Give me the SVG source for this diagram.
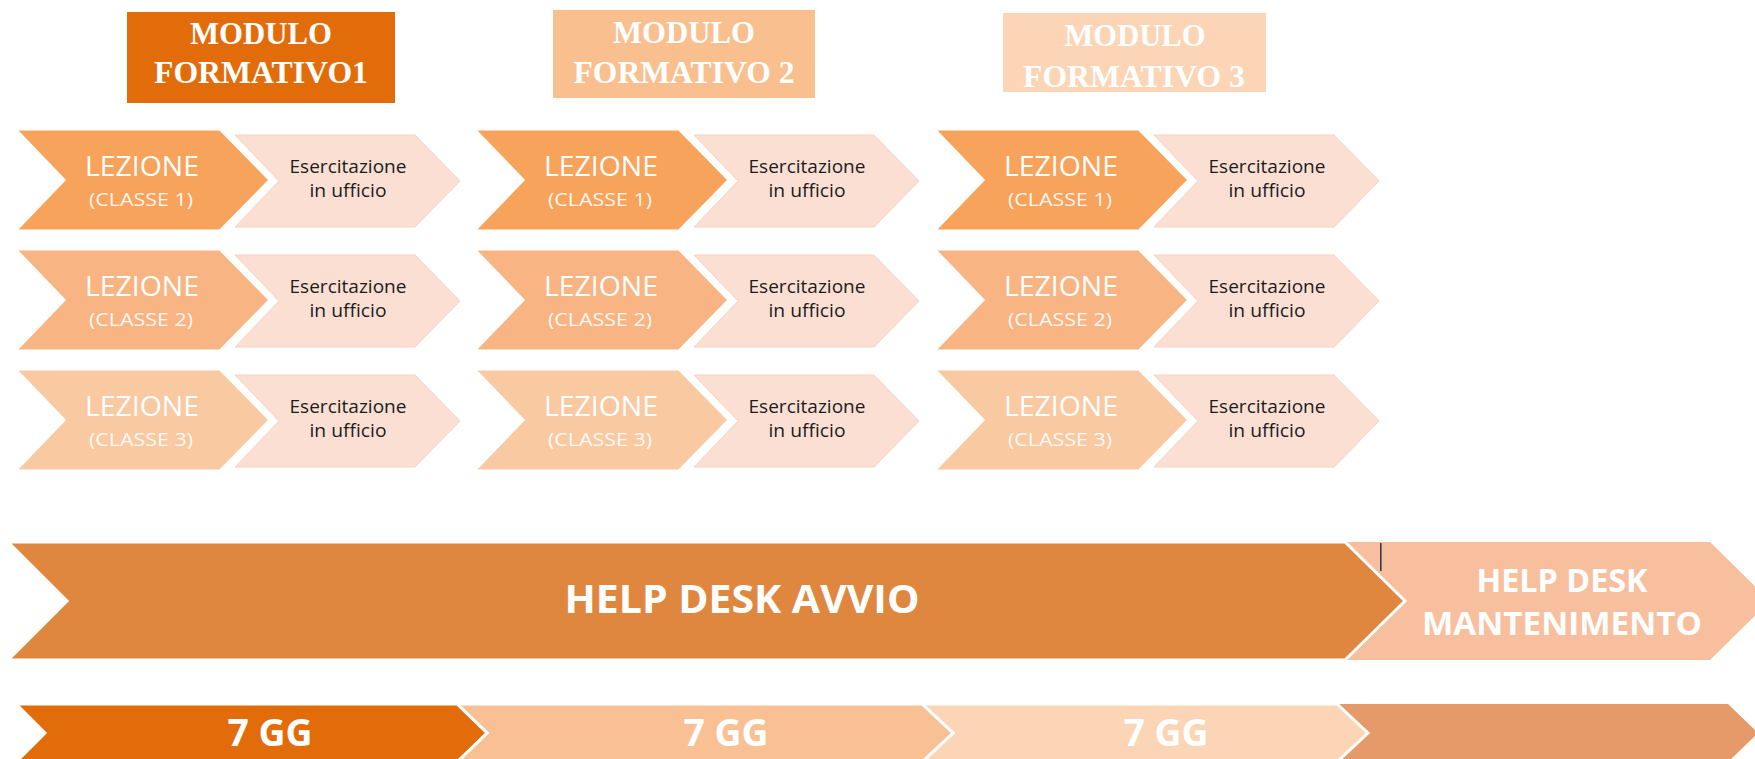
<svg xmlns="http://www.w3.org/2000/svg" xmlns:xlink="http://www.w3.org/1999/xlink" width="1755" height="759" viewBox="0 0 1755 759">
<style>
.mod{font-family:"Liberation Serif","Times New Roman",serif;font-weight:bold;font-size:31px;fill:#fff;text-anchor:middle}
.lz{font-family:"Open Sans","Liberation Sans",sans-serif;font-size:27px;fill:#fff;text-anchor:middle}
.cl{font-family:"Open Sans","Liberation Sans",sans-serif;font-size:19px;fill:#fff;fill-opacity:0.92;text-anchor:middle}
.es{font-family:"Open Sans","Liberation Sans",sans-serif;font-size:18px;fill:#1c1c1c;text-anchor:middle}
.big{font-family:"Open Sans","Liberation Sans",sans-serif;font-weight:bold;fill:#fff;text-anchor:middle}
.esShape{fill:#FBDFD3;stroke:#F8D3C2;stroke-width:1}
.lzShape{stroke:#fff;stroke-width:3;stroke-linejoin:miter}
.r1{fill:#F7A35C}.r2{fill:#F8B583}.r3{fill:#F9C9A2}
</style>
<defs>
<polygon id="lzp" points="0,0 205,0 255,51 205,102 0,102 49,51"/>
<polygon id="esp" points="220,6 400,6 445,52 400,98 220,98 264,52"/>
</defs>

<g id="modulo1">
<rect x="127" y="12" width="268" height="91" fill="#E36C0A"/>
<text class="mod" x="261" y="44" textLength="142" lengthAdjust="spacingAndGlyphs">MODULO</text>
<text class="mod" x="261" y="83" textLength="214" lengthAdjust="spacingAndGlyphs">FORMATIVO1</text>
</g>
<g id="modulo2">
<rect x="553" y="10" width="262" height="88" fill="#F9BF8F"/>
<text class="mod" x="684" y="43" textLength="142" lengthAdjust="spacingAndGlyphs">MODULO</text>
<text class="mod" x="684" y="83" textLength="221" lengthAdjust="spacingAndGlyphs">FORMATIVO 2</text>
</g>
<g id="modulo3">
<rect x="1003" y="13" width="263" height="79" fill="#FBD5B5"/>
<text class="mod" x="1135" y="46" textLength="141" lengthAdjust="spacingAndGlyphs">MODULO</text>
<text class="mod" x="1134" y="87" textLength="222" lengthAdjust="spacingAndGlyphs">FORMATIVO 3</text>
</g>

<!-- Column 1 -->
<g id="m1-c1-esercitazione" transform="translate(15,129)"><use xlink:href="#esp" class="esShape"/><text class="es" x="333" y="44" textLength="117" lengthAdjust="spacingAndGlyphs">Esercitazione</text><text class="es" x="333" y="68" textLength="77" lengthAdjust="spacingAndGlyphs">in ufficio</text></g>
<g id="m1-c1-lezione" transform="translate(15,129)"><use xlink:href="#lzp" class="lzShape r1"/><text class="lz" x="127" y="47" textLength="114" lengthAdjust="spacingAndGlyphs">LEZIONE</text><text class="cl" x="126" y="77" textLength="104" lengthAdjust="spacingAndGlyphs">(CLASSE 1)</text></g>
<g id="m1-c2-esercitazione" transform="translate(15,249)"><use xlink:href="#esp" class="esShape"/><text class="es" x="333" y="44" textLength="117" lengthAdjust="spacingAndGlyphs">Esercitazione</text><text class="es" x="333" y="68" textLength="77" lengthAdjust="spacingAndGlyphs">in ufficio</text></g>
<g id="m1-c2-lezione" transform="translate(15,249)"><use xlink:href="#lzp" class="lzShape r2"/><text class="lz" x="127" y="47" textLength="114" lengthAdjust="spacingAndGlyphs">LEZIONE</text><text class="cl" x="126" y="77" textLength="104" lengthAdjust="spacingAndGlyphs">(CLASSE 2)</text></g>
<g id="m1-c3-esercitazione" transform="translate(15,369)"><use xlink:href="#esp" class="esShape"/><text class="es" x="333" y="44" textLength="117" lengthAdjust="spacingAndGlyphs">Esercitazione</text><text class="es" x="333" y="68" textLength="77" lengthAdjust="spacingAndGlyphs">in ufficio</text></g>
<g id="m1-c3-lezione" transform="translate(15,369)"><use xlink:href="#lzp" class="lzShape r3"/><text class="lz" x="127" y="47" textLength="114" lengthAdjust="spacingAndGlyphs">LEZIONE</text><text class="cl" x="126" y="77" textLength="104" lengthAdjust="spacingAndGlyphs">(CLASSE 3)</text></g>

<!-- Column 2 -->
<g id="m2-c1-esercitazione" transform="translate(474,129)"><use xlink:href="#esp" class="esShape"/><text class="es" x="333" y="44" textLength="117" lengthAdjust="spacingAndGlyphs">Esercitazione</text><text class="es" x="333" y="68" textLength="77" lengthAdjust="spacingAndGlyphs">in ufficio</text></g>
<g id="m2-c1-lezione" transform="translate(474,129)"><use xlink:href="#lzp" class="lzShape r1"/><text class="lz" x="127" y="47" textLength="114" lengthAdjust="spacingAndGlyphs">LEZIONE</text><text class="cl" x="126" y="77" textLength="104" lengthAdjust="spacingAndGlyphs">(CLASSE 1)</text></g>
<g id="m2-c2-esercitazione" transform="translate(474,249)"><use xlink:href="#esp" class="esShape"/><text class="es" x="333" y="44" textLength="117" lengthAdjust="spacingAndGlyphs">Esercitazione</text><text class="es" x="333" y="68" textLength="77" lengthAdjust="spacingAndGlyphs">in ufficio</text></g>
<g id="m2-c2-lezione" transform="translate(474,249)"><use xlink:href="#lzp" class="lzShape r2"/><text class="lz" x="127" y="47" textLength="114" lengthAdjust="spacingAndGlyphs">LEZIONE</text><text class="cl" x="126" y="77" textLength="104" lengthAdjust="spacingAndGlyphs">(CLASSE 2)</text></g>
<g id="m2-c3-esercitazione" transform="translate(474,369)"><use xlink:href="#esp" class="esShape"/><text class="es" x="333" y="44" textLength="117" lengthAdjust="spacingAndGlyphs">Esercitazione</text><text class="es" x="333" y="68" textLength="77" lengthAdjust="spacingAndGlyphs">in ufficio</text></g>
<g id="m2-c3-lezione" transform="translate(474,369)"><use xlink:href="#lzp" class="lzShape r3"/><text class="lz" x="127" y="47" textLength="114" lengthAdjust="spacingAndGlyphs">LEZIONE</text><text class="cl" x="126" y="77" textLength="104" lengthAdjust="spacingAndGlyphs">(CLASSE 3)</text></g>

<!-- Column 3 -->
<g id="m3-c1-esercitazione" transform="translate(934,129)"><use xlink:href="#esp" class="esShape"/><text class="es" x="333" y="44" textLength="117" lengthAdjust="spacingAndGlyphs">Esercitazione</text><text class="es" x="333" y="68" textLength="77" lengthAdjust="spacingAndGlyphs">in ufficio</text></g>
<g id="m3-c1-lezione" transform="translate(934,129)"><use xlink:href="#lzp" class="lzShape r1"/><text class="lz" x="127" y="47" textLength="114" lengthAdjust="spacingAndGlyphs">LEZIONE</text><text class="cl" x="126" y="77" textLength="104" lengthAdjust="spacingAndGlyphs">(CLASSE 1)</text></g>
<g id="m3-c2-esercitazione" transform="translate(934,249)"><use xlink:href="#esp" class="esShape"/><text class="es" x="333" y="44" textLength="117" lengthAdjust="spacingAndGlyphs">Esercitazione</text><text class="es" x="333" y="68" textLength="77" lengthAdjust="spacingAndGlyphs">in ufficio</text></g>
<g id="m3-c2-lezione" transform="translate(934,249)"><use xlink:href="#lzp" class="lzShape r2"/><text class="lz" x="127" y="47" textLength="114" lengthAdjust="spacingAndGlyphs">LEZIONE</text><text class="cl" x="126" y="77" textLength="104" lengthAdjust="spacingAndGlyphs">(CLASSE 2)</text></g>
<g id="m3-c3-esercitazione" transform="translate(934,369)"><use xlink:href="#esp" class="esShape"/><text class="es" x="333" y="44" textLength="117" lengthAdjust="spacingAndGlyphs">Esercitazione</text><text class="es" x="333" y="68" textLength="77" lengthAdjust="spacingAndGlyphs">in ufficio</text></g>
<g id="m3-c3-lezione" transform="translate(934,369)"><use xlink:href="#lzp" class="lzShape r3"/><text class="lz" x="127" y="47" textLength="114" lengthAdjust="spacingAndGlyphs">LEZIONE</text><text class="cl" x="126" y="77" textLength="104" lengthAdjust="spacingAndGlyphs">(CLASSE 3)</text></g>

<!-- Help desk -->
<g id="helpdesk-mantenimento">
<polygon points="1343,542 1710,542 1770,601 1710,660 1343,660 1403,601" fill="#F8BF9E"/>
<text class="big" x="1562" y="592" font-size="32" textLength="171" lengthAdjust="spacingAndGlyphs">HELP DESK</text>
<text class="big" x="1562" y="635" font-size="32" textLength="280" lengthAdjust="spacingAndGlyphs">MANTENIMENTO</text>
</g>
<g id="helpdesk-avvio">
<polygon points="8,542 1345,542 1405,601 1345,660 8,660 67,601" fill="#DF873F" stroke="#fff" stroke-width="3"/>
<text class="big" x="742" y="613" font-size="39" textLength="355" lengthAdjust="spacingAndGlyphs">HELP DESK AVVIO</text>
</g>
<rect id="cursor" x="1380" y="543" width="1.6" height="28" fill="#2F4254"/>

<!-- Timeline -->
<g id="tempo-4">
<polygon points="1337,704 1728,704 1758,733 1728,762 1337,762 1368,733" fill="#E79A69"/>
</g>
<g id="tempo-3">
<polygon points="922,704 1337,704 1368,733 1337,762 922,762 953,733" fill="#FBD5B5" stroke="#fff" stroke-width="3"/>
<text class="big" x="1166" y="746" font-size="38" textLength="85" lengthAdjust="spacingAndGlyphs">7 GG</text>
</g>
<g id="tempo-2">
<polygon points="457,704 922,704 953,733 922,762 457,762 487,733" fill="#F9C193" stroke="#fff" stroke-width="3"/>
<text class="big" x="726" y="746" font-size="38" textLength="85" lengthAdjust="spacingAndGlyphs">7 GG</text>
</g>
<g id="tempo-1">
<polygon points="16,704 457,704 487,733 457,762 16,762 45,733" fill="#E36C0A" stroke="#fff" stroke-width="3"/>
<text class="big" x="270" y="746" font-size="38" textLength="85" lengthAdjust="spacingAndGlyphs">7 GG</text>
</g>
<g id="connectors"/>
</svg>
